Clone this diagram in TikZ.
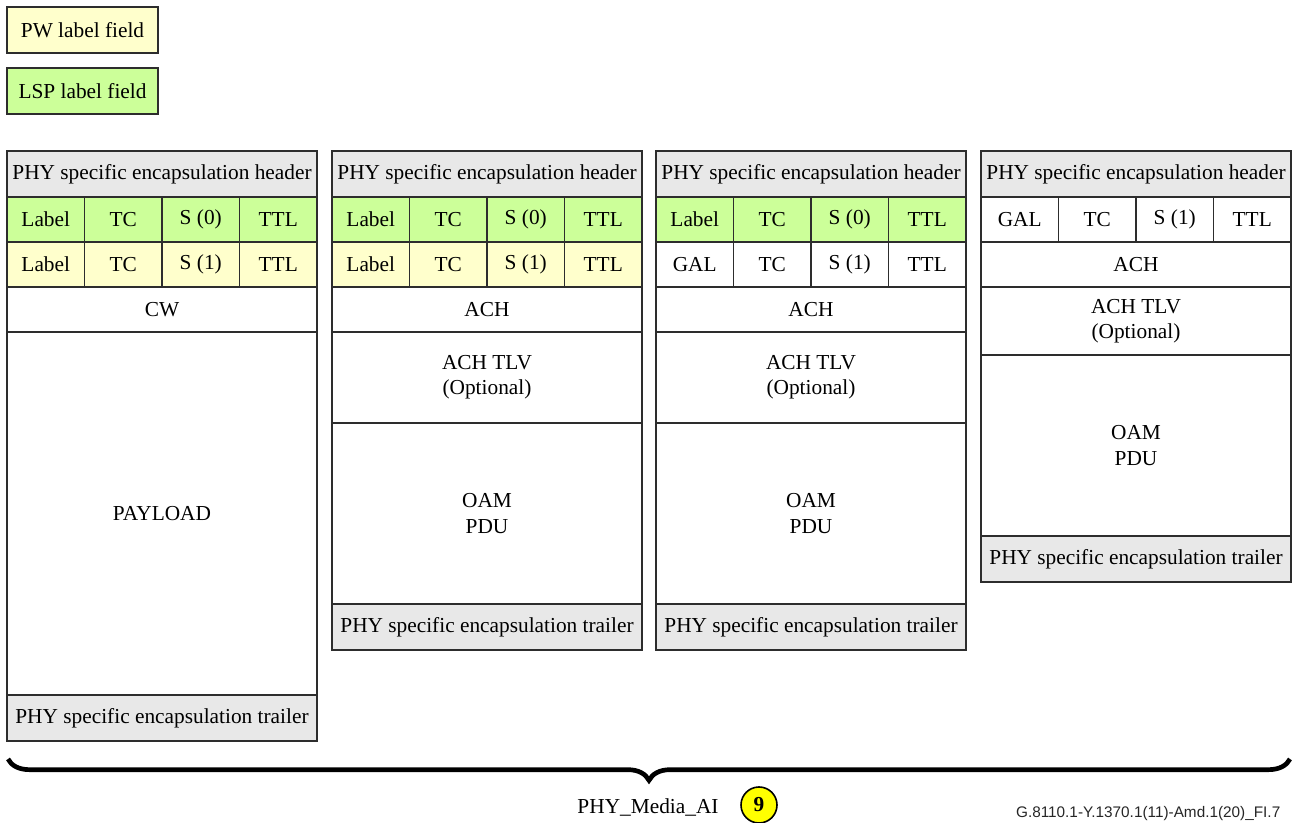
\documentclass[tikz,border=0pt]{standalone}
\usepackage{fontspec}
\setmainfont{Liberation Serif}
\newfontfamily\figserif{Liberation Serif}
\newfontfamily\figsans{Liberation Sans}
\usepackage{tikz}
\usetikzlibrary{
    positioning,
    decorations.pathreplacing
}
\definecolor{pwfield}{RGB}{255,255,204}
\definecolor{lspfield}{RGB}{204,255,153}
\definecolor{phygray}{RGB}{232,232,232}
\definecolor{edge}{RGB}{45,45,45}
\definecolor{marker}{RGB}{255,255,0}

\tikzset{
    box/.style={draw=edge, line width=0.8pt, inner sep=0pt, outer sep=0pt,
        align=center, minimum width=232.5pt, font=\figserif\fontsize{16}{19}\selectfont},
    field/.style={box, minimum width=58.125pt, minimum height=33.75pt},
    phy/.style={box, fill=phygray, minimum height=34.5pt},
    legendbox/.style={box, minimum width=113.25pt, minimum height=34.5pt},
}

\begin{document}
\begin{tikzpicture}[x=0.75pt, y=-0.75pt]
    \useasboundingbox (0,0) rectangle (1297,823);

    % Legend
    \node[legendbox, fill=pwfield, anchor=north west] (pwkey) at (7,7) {PW label field};
    \node[legendbox, fill=lspfield, anchor=north west] (lspkey) at (7,68) {LSP label field};

    % === Column 1: PW with CW ===
    \begin{scope}[shift={(7,0)}]
        \node[phy, anchor=north west] (ahdr) at (0,151) {PHY specific encapsulation header};
        \node[field, fill=lspfield, anchor=north west] (al1) at (ahdr.south west) {Label};
        \node[field, fill=lspfield, right=0pt of al1] (al2) {TC};
        \node[field, fill=lspfield, right=0pt of al2] (al3) {S (0)};
        \node[field, fill=lspfield, right=0pt of al3] (al4) {TTL};
        \node[field, fill=pwfield, below=0pt of al1] (am1) {Label};
        \node[field, fill=pwfield, right=0pt of am1] (am2) {TC};
        \node[field, fill=pwfield, right=0pt of am2] (am3) {S (1)};
        \node[field, fill=pwfield, right=0pt of am3] (am4) {TTL};
        \node[box, minimum height=33.75pt, anchor=north west] (acw) at (am1.south west) {CW};
        \node[box, minimum height=272.25pt, below=0pt of acw] (apay) {PAYLOAD};
        \node[phy, minimum height=34.5pt, below=0pt of apay] (atrl) {PHY specific encapsulation trailer};
    \end{scope}

    % === Column 2: PW with ACH ===
    \begin{scope}[shift={(332,0)}]
        \node[phy, anchor=north west] (bhdr) at (0,151) {PHY specific encapsulation header};
        \node[field, fill=lspfield, anchor=north west] (bl1) at (bhdr.south west) {Label};
        \node[field, fill=lspfield, right=0pt of bl1] (bl2) {TC};
        \node[field, fill=lspfield, right=0pt of bl2] (bl3) {S (0)};
        \node[field, fill=lspfield, right=0pt of bl3] (bl4) {TTL};
        \node[field, fill=pwfield, below=0pt of bl1] (bm1) {Label};
        \node[field, fill=pwfield, right=0pt of bm1] (bm2) {TC};
        \node[field, fill=pwfield, right=0pt of bm2] (bm3) {S (1)};
        \node[field, fill=pwfield, right=0pt of bm3] (bm4) {TTL};
        \node[box, minimum height=33.75pt, anchor=north west] (bach) at (bm1.south west) {ACH};
        \node[box, minimum height=68.25pt, below=0pt of bach] (btlv) {ACH TLV\\(Optional)};
        \node[box, minimum height=135.75pt, below=0pt of btlv] (boam) {OAM\\PDU};
        \node[phy, below=0pt of boam] (btrl) {PHY specific encapsulation trailer};
    \end{scope}

    % === Column 3: LSP with GAL ===
    \begin{scope}[shift={(656,0)}]
        \node[phy, anchor=north west] (chdr) at (0,151) {PHY specific encapsulation header};
        \node[field, fill=lspfield, anchor=north west] (cl1) at (chdr.south west) {Label};
        \node[field, fill=lspfield, right=0pt of cl1] (cl2) {TC};
        \node[field, fill=lspfield, right=0pt of cl2] (cl3) {S (0)};
        \node[field, fill=lspfield, right=0pt of cl3] (cl4) {TTL};
        \node[field, fill=white, below=0pt of cl1] (cm1) {GAL};
        \node[field, fill=white, right=0pt of cm1] (cm2) {TC};
        \node[field, fill=white, right=0pt of cm2] (cm3) {S (1)};
        \node[field, fill=white, right=0pt of cm3] (cm4) {TTL};
        \node[box, minimum height=33.75pt, anchor=north west] (cach) at (cm1.south west) {ACH};
        \node[box, minimum height=68.25pt, below=0pt of cach] (ctlv) {ACH TLV\\(Optional)};
        \node[box, minimum height=135.75pt, below=0pt of ctlv] (coam) {OAM\\PDU};
        \node[phy, below=0pt of coam] (ctrl) {PHY specific encapsulation trailer};
    \end{scope}

    % === Column 4: GAL only ===
    \begin{scope}[shift={(981,0)}]
        \node[phy, anchor=north west] (dhdr) at (0,151) {PHY specific encapsulation header};
        \node[field, anchor=north west] (dm1) at (dhdr.south west) {GAL};
        \node[field, right=0pt of dm1] (dm2) {TC};
        \node[field, right=0pt of dm2] (dm3) {S (1)};
        \node[field, right=0pt of dm3] (dm4) {TTL};
        \node[box, minimum height=33.75pt, anchor=north west] (dach) at (dm1.south west) {ACH};
        \node[box, minimum height=51pt, below=0pt of dach] (dtlv) {ACH TLV\\(Optional)};
        \node[box, minimum height=135.75pt, below=0pt of dtlv] (doam) {OAM\\PDU};
        \node[phy, below=0pt of doam] (dtrl) {PHY specific encapsulation trailer};
    \end{scope}

    % Brace over the whole medium
    \coordinate (braceL) at (8,759);
    \coordinate (braceR) at (1290,759);
    \draw[line width=3.5pt, decorate, decoration={brace, mirror, amplitude=16pt}]
        (braceL) -- (braceR);

    \node[font=\figserif\fontsize{16}{19}\selectfont] (media) at (648,807) {PHY\_Media\_AI};
    \node[circle, draw=black, line width=1.2pt, fill=marker, inner sep=0pt,
        minimum size=27pt,
        font=\figserif\fontsize{16}{19}\selectfont\bfseries] (ref9) at (759,805) {9};

    \node[anchor=base east, font=\figsans\fontsize{11.5}{14}\selectfont, text=black!85] (figid)
        at (1285,817) {G.8110.1-Y.1370.1(11)-Amd.1(20)\_FI.7};
\end{tikzpicture}
\end{document}
